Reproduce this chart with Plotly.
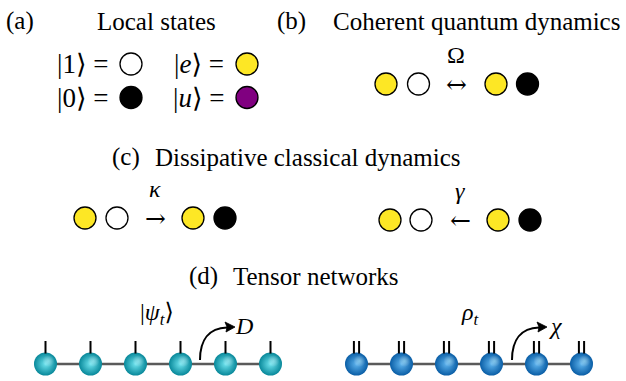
import plotly.graph_objects as go

# ---------------- data ----------------
state_names = ["1", "0", "e", "u"]
state_colors = ["#ffffff", "#000000", "#fde725", "#800080"]

legend_order = ["1", "e", "0", "u"]
legend_text = ["|1⟩ =", "|<i>e</i>⟩ =", "|0⟩ =", "|<i>u</i>⟩ ="]

rate_labels = ["Ω", "<i>κ</i>", "<i>γ</i>"]
rate_arrows = ["↔", "→", "←"]
initial_pairs = [["e", "1"], ["e", "1"], ["e", "1"]]
final_pairs = [["e", "0"], ["e", "0"], ["e", "0"]]

panel_tags = ["(a)", "(b)", "(c)", "(d)"]
panel_titles = ["Local states", "Coherent quantum dynamics",
                "Dissipative classical dynamics", "Tensor networks"]

n_sites = 6
network_labels = ["|<i>ψ</i><sub><i>t</i></sub>⟩", "<i>ρ</i><sub><i>t</i></sub>"]
bond_labels = ["<i>D</i>", "<i>χ</i>"]
legs_per_site = [1, 2]

# ---------------- layout / style ----------------
W, H = 626, 381
FONT = "Liberation Serif, DejaVu Serif, serif"
TS = 25
color_of = dict(zip(state_names, state_colors))

tag_x = [20, 291, 126, 203]
title_x = [156, 476, 307, 316]
title_y = [21, 21, 157, 276]

legend_cx = [131, 247, 131, 247]
legend_cy = [64, 64, 97.5, 97.5]

proc_x = [[386, 418.5, 456, 496, 527.5],
          [85, 117, 155, 193, 225],
          [390, 421, 460, 498, 530]]
proc_y = [84, 218, 220]
label_gap = 29

chain_x0 = [45.5, 356.5]
pitch = 45
chain_y = 364
ball = 23
leg_top = 341
ball_edge = ["#08889a", "#0a5ea6"]
ball_center = ["#6fe4ef", "#5fb4ee"]
chain_label_x = [157, 470]
chain_label_y = 314
bond_start = [200, 512]

fig = go.Figure()
annotations = []
shapes = []


def add_circles(xs, ys, states):
    for s in state_names:
        px = [x for x, st in zip(xs, states) if st == s]
        py = [y for y, st in zip(ys, states) if st == s]
        if px:
            fig.add_trace(go.Scatter(
                x=px, y=py, mode="markers", hoverinfo="skip",
                marker=dict(size=22, color=color_of[s],
                            line=dict(color="black", width=1.3))))


def text(x, y, t, size=TS, xanchor="center", family=FONT):
    annotations.append(dict(x=x, y=y, xref="x", yref="y", text=t, showarrow=False,
                            xanchor=xanchor, yanchor="middle",
                            font=dict(family=family, size=size, color="black")))


# titles
for tx, ttl, ttx, ty, tag in zip(tag_x, panel_titles, title_x, title_y, panel_tags):
    text(tx, ty, tag)
    text(ttx, ty, ttl)

# (a) local states
add_circles(legend_cx, legend_cy, legend_order)
for cx, cy, lt in zip(legend_cx, legend_cy, legend_text):
    text(cx - 21, cy, lt, size=27, xanchor="right")

# (b), (c) processes
for xs, y, lab, arr, a, b in zip(proc_x, proc_y, rate_labels,
                                 rate_arrows, initial_pairs, final_pairs):
    add_circles([xs[0], xs[1], xs[3], xs[4]], [y] * 4, a + b)
    text(xs[2], y, arr, size=25, family="DejaVu Serif")
    text(xs[2], y - label_gap, lab, size=24)

# (d) tensor networks
for k in range(2):
    xs = [chain_x0[k] + pitch * i for i in range(n_sites)]
    fig.add_trace(go.Scatter(x=[xs[0], xs[-1]], y=[chain_y, chain_y], mode="lines",
                             hoverinfo="skip", line=dict(color="#5a5a5a", width=2.5)))
    offs = [0] if legs_per_site[k] == 1 else [-2.6, 2.6]
    for x in xs:
        for o in offs:
            shapes.append(dict(type="line", xref="x", yref="y", x0=x + o, x1=x + o,
                               y0=leg_top, y1=chain_y - ball / 2 + 1,
                               line=dict(color="black", width=2)))
    fig.add_trace(go.Scatter(
        x=xs, y=[chain_y] * n_sites, mode="markers", hoverinfo="skip",
        marker=dict(size=ball, color=ball_edge[k],
                    gradient=dict(type="radial", color=ball_center[k]),
                    line=dict(width=0))))
    fig.add_trace(go.Scatter(
        x=[x + 3 for x in xs], y=[chain_y - 3] * n_sites, mode="markers", hoverinfo="skip",
        marker=dict(size=12, color="rgba(255,255,255,0)",
                    gradient=dict(type="radial", color="rgba(200,250,255,0.45)"),
                    line=dict(width=0))))
    text(chain_label_x[k], chain_label_y, network_labels[k], size=24)
    x0, y0 = bond_start[k], 360
    shapes.append(dict(type="path", xref="x", yref="y",
                       path=f"M {x0},{y0} C {x0},{y0-20} {x0+9},{y0-32} {x0+27},{y0-32.5}",
                       line=dict(color="black", width=2)))
    shapes.append(dict(type="path", xref="x", yref="y",
                       path=f"M {x0+35},{y0-33} L {x0+25},{y0-38} L {x0+27},{y0-33} L {x0+26},{y0-28} Z",
                       fillcolor="black", line=dict(color="black", width=0.8)))
    text(x0 + 44, 326, bond_labels[k], size=24)

fig.update_layout(
    width=W, height=H, margin=dict(l=0, r=0, t=0, b=0),
    paper_bgcolor="white", plot_bgcolor="white", showlegend=False,
    xaxis=dict(range=[0, W], visible=False, fixedrange=True),
    yaxis=dict(range=[H, 0], visible=False, fixedrange=True),
    annotations=annotations, shapes=shapes,
)
fig.write_html("out.html", config={"displayModeBar": False},
               post_script="document.body.style.margin='0';document.body.style.overflow='hidden';")
